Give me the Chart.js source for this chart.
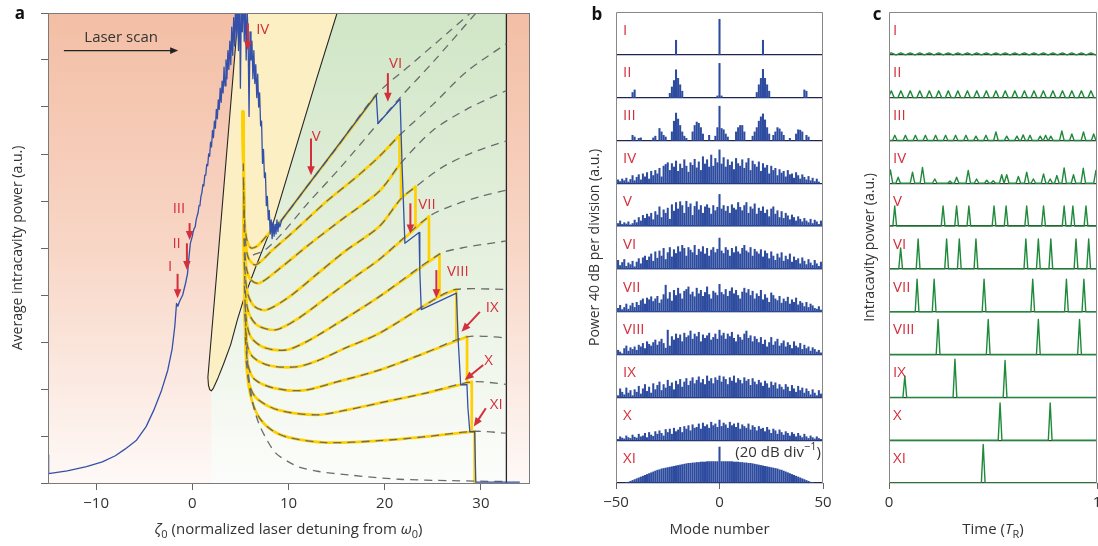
<!DOCTYPE html>
<html>
<head>
<meta charset="utf-8">
<script src="https://cdn.jsdelivr.net/npm/chart.js@4.4.1/dist/chart.umd.min.js"></script>
<style>
  html, body { margin: 0; padding: 0; background: #fff; }
  body { width: 1098px; height: 546px; overflow: hidden; position: relative; }
  canvas { position: absolute; top: 0; }
</style>
</head>
<body>
<canvas id="chartA" width="545" height="546" style="left:0"></canvas>
<canvas id="chartB" width="278" height="546" style="left:560px"></canvas>
<canvas id="chartC" width="272" height="546" style="left:840px"></canvas>
<script>
const FONT = "'Open Sans', 'Noto Sans', sans-serif";
Chart.defaults.font.family = FONT;
Chart.defaults.color = '#333';

// ---------------- panel a data (detuning, power) ----------------
const scanTrace = [
  [-15, 0.6], [-14.97, 0.22], [-14.9, 0.2], [-13, 0.26], [-11, 0.35], [-9.35, 0.45], [-8, 0.58],
  [-7, 0.72], [-5.8, 0.91], [-4.8, 1.2], [-4, 1.55], [-3.2, 1.97], [-2.55, 2.4], [-2.1, 2.85],
  [-1.82, 3.33], [-1.64, 3.82], [-1.5, 3.76], [-1.35, 3.85], [-1.0, 4.0], [-0.7, 4.25], [-0.5, 4.45],
  [-0.35, 4.8], [-0.2, 5.1],
  [0, 5.25], [0.1, 5.35], [0.2, 5.42], [0.3, 5.45], [0.4, 5.6], [0.5, 5.68], [0.6, 5.75], [0.7, 5.9], [0.8, 5.92], [0.9, 6.1],
  [1.0, 6.18], [1.1, 6.35], [1.2, 6.32], [1.3, 6.55], [1.4, 6.55], [1.5, 6.78], [1.6, 6.75], [1.7, 7.0], [1.8, 6.95], [1.9, 7.25],
  [2.0, 7.15], [2.1, 7.5], [2.2, 7.35], [2.3, 7.7], [2.4, 7.55], [2.5, 7.95], [2.6, 7.75], [2.7, 8.15], [2.8, 7.95], [2.9, 8.4],
  [3.0, 8.1], [3.1, 8.55], [3.2, 8.3], [3.3, 8.85], [3.4, 8.45], [3.5, 9.0], [3.6, 8.6], [3.7, 9.2], [3.8, 8.8], [3.9, 9.4],
  [4.0, 8.9], [4.1, 9.7], [4.2, 9.1], [4.3, 9.9], [4.4, 9.3], [4.5, 10.2], [4.6, 9.5], [4.7, 10.4], [4.8, 9.2], [4.9, 10.5],
  [5.0, 8.4], [5.1, 10.3], [5.2, 9.6], [5.3, 10.6], [5.4, 9.4], [5.5, 10.3], [5.6, 9.0], [5.7, 10.1], [5.8, 9.5], [5.9, 7.8],
  [6.0, 9.6], [6.1, 9.0], [6.2, 9.4], [6.3, 8.6], [6.4, 9.2], [6.5, 8.5], [6.6, 8.9], [6.7, 8.2], [6.8, 8.7], [6.9, 8.0],
  [7.0, 8.3], [7.1, 7.6], [7.2, 7.7], [7.3, 6.8], [7.4, 7.1], [7.5, 6.5], [7.6, 6.6], [7.7, 5.9], [7.8, 6.1], [7.9, 5.6],
  [8.0, 5.8], [8.1, 5.3], [8.2, 5.6], [8.3, 5.2], [8.4, 5.55], [8.5, 5.25], [8.6, 5.5], [8.7, 5.3], [8.8, 5.6], [8.9, 5.35],
  [9.0, 5.55], [9.1, 5.45], [9.3, 5.6],
  [19.12, 8.26], [19.3, 7.65], [21.6, 8.17], [21.8, 6.8], [22.1, 5.1], [23.57, 5.33], [23.65, 4.5], [23.8, 3.69],
  [27.45, 4.04], [27.65, 3.0], [27.9, 2.09], [28.55, 2.09], [28.65, 1.6], [28.85, 1.09], [29.35, 1.09],
  [29.47, 0.02], [34, 0.02]
];

// simulated soliton branches (yellow), each ends where the state jumps down
const branch1 = [[5.27, 7.9], [5.3, 6.8], [5.36, 6.0], [5.48, 5.45], [5.7, 5.15], [6.1, 5.0], [6.8, 5.05], [7.9, 5.3], [9.3, 5.6], [12, 6.33], [15, 7.13], [19.12, 8.26]];
const branch2 = [[5.27, 7.9], [5.33, 6.4], [5.4, 5.6], [5.55, 5.1], [5.85, 4.78], [6.6, 4.64], [8.3, 4.95], [10.8, 5.4], [14, 6.0], [17, 6.5], [19.4, 6.94], [21.55, 7.4]];
const branch3 = [[5.27, 7.9], [5.36, 5.8], [5.45, 5.0], [5.65, 4.55], [6.1, 4.32], [6.95, 4.25], [9, 4.55], [12, 5.05], [15.5, 5.6], [19.4, 6.2], [21.7, 6.81]];
const branch4 = [[5.27, 7.9], [5.38, 5.2], [5.5, 4.45], [5.8, 4.0], [6.5, 3.75], [7.66, 3.68], [10, 3.95], [13, 4.45], [16, 4.95], [19.4, 5.45], [21.7, 6.05], [23.2, 6.3]];
const branch5 = [[5.27, 7.9], [5.4, 4.7], [5.55, 4.0], [5.9, 3.6], [6.8, 3.35], [8.7, 3.26], [11, 3.5], [14, 3.95], [17, 4.4], [19.4, 4.75], [24.6, 5.67]];
const branch6 = [[5.27, 7.9], [5.42, 4.2], [5.6, 3.5], [6.1, 3.1], [7.5, 2.88], [9.75, 2.83], [12, 3.02], [15.5, 3.45], [19.4, 3.96], [25.7, 4.87]];
const branch7 = [[5.27, 7.9], [5.45, 3.6], [5.7, 2.95], [6.3, 2.68], [8, 2.5], [10.8, 2.47], [13, 2.6], [16, 2.88], [19.4, 3.18], [25.7, 3.97], [27.45, 4.12]];
const branch8 = [[5.27, 7.9], [5.5, 3.1], [5.8, 2.5], [6.5, 2.2], [8.5, 2.02], [11.5, 1.97], [15, 2.15], [19.4, 2.4], [24, 2.75], [28.56, 3.11]];
const branch9 = [[5.27, 7.9], [5.6, 2.6], [6.0, 2.05], [6.8, 1.78], [9, 1.55], [12.9, 1.45], [16, 1.55], [19.4, 1.7], [24, 1.9], [29.05, 2.15]];
const branch10 = [[5.27, 7.9], [5.75, 2.3], [6.2, 1.75], [7, 1.38], [8.3, 1.12], [10, 0.97], [13.9, 0.86], [19.4, 0.9], [24, 0.98], [29.35, 1.1]];
const stableBranches = [branch1, branch2, branch3, branch4, branch5, branch6, branch7, branch8, branch9, branch10];
const branchDrops = [null, 6.77, 6.05, 5.42, 4.71, 3.97, 3.02, 2.12, 1.1, 0];

// theory continuation of every branch (dashed)
const branchTails = [
  [[23, 8.95], [26.5, 9.57], [29.2, 10.05]],
  [[25, 8.05], [28.5, 8.75], [32.65, 9.35]],
  [[25, 7.5], [28.5, 7.95], [32.65, 8.35]],
  [[26, 6.72], [29, 7.02], [32.65, 7.28]],
  [[27, 5.9], [30, 6.1], [32.65, 6.23]],
  [[28, 5.0], [32.65, 5.15]],
  [[32.65, 4.12]],
  [[32.65, 3.09]],
  [[32.65, 2.1]],
  [[32.65, 1.06]]
];
const theoryOnly1 = [[6.3, 4.85], [7.5, 4.95], [9.3, 5.3], [12, 5.95], [15.3, 6.69], [19.3, 7.65], [21.55, 8.19], [25, 8.95], [29.7, 10.05]];
const theoryOnly0 = [[5.5, 3.8], [5.65, 2.9], [5.9, 2.2], [6.4, 1.6], [6.95, 1.25], [7.8, 0.9], [8.7, 0.63], [10, 0.45], [11.1, 0.34], [13, 0.25], [16.3, 0.17], [21.5, 0.08], [27, 0.05], [32.65, 0.03]];

// region borders
const tongueLeft = [[4.78, 10], [2.52, 4.42], [1.62, 2.25], [1.68, 2.08], [1.8, 1.99], [1.98, 1.96]];
const tongueRight = [[1.98, 1.96], [2.2, 2.02], [2.6, 2.2], [3.23, 2.52], [4.0, 2.95], [4.67, 3.46], [5.4, 3.95], [6.6, 4.6], [7.3, 4.96], [8.39, 5.52], [12.92, 8.6], [15.05, 10]];
const stabilityEdge = 32.65;
const leftGreenEdge = 1.98;

// state markers I..XI : arrow start, arrow tip, label centre
const stateArrows = [
  { label: 'I', from: [-1.53, 4.45], to: [-1.53, 3.93], text: [-2.3, 4.6] },
  { label: 'II', from: [-0.56, 5.1], to: [-0.56, 4.53], text: [-1.63, 5.1] },
  { label: 'III', from: [-0.28, 5.53], to: [-0.28, 5.17], text: [-1.39, 5.84] },
  { label: 'IV', from: [5.78, 9.78], to: [5.78, 9.21], text: [7.32, 9.64] },
  { label: 'V', from: [12.34, 7.33], to: [12.34, 6.55], text: [12.88, 7.37] },
  { label: 'VI', from: [20.33, 8.72], to: [20.33, 8.11], text: [21.13, 8.93] },
  { label: 'VII', from: [22.67, 5.95], to: [22.67, 5.31], text: [24.4, 5.91] },
  { label: 'VIII', from: [25.37, 4.53], to: [25.37, 3.93], text: [27.6, 4.5] },
  { label: 'IX', from: [29.89, 3.64], to: [27.98, 3.22], text: [31.17, 3.72] },
  { label: 'X', from: [30.24, 2.51], to: [28.32, 2.19], text: [30.8, 2.6] },
  { label: 'XI', from: [30.51, 1.59], to: [29.26, 1.2], text: [31.6, 1.66] }
];

// ---------------- panel b data (mode number, power per strip) ----------------
const stateLabels = ['I', 'II', 'III', 'IV', 'V', 'VI', 'VII', 'VIII', 'IX', 'X', 'XI'];
const modeNumbers = Array.from({ length: 101 }, (_, i) => i - 50);
const specI = [[-21, 34], [0, 83], [21, 34]];
const specII = [[-42, 12], [-41, 18], [-24, 10], [-23, 25], [-22, 40], [-21, 65], [-20, 45], [-19, 30], [-18, 15], [-1, 4], [0, 80], [1, 4],
  [18, 12], [19, 30], [20, 45], [21, 66], [22, 45], [23, 30], [24, 15], [41, 18], [42, 15]];
const specIII = [[-42, 12], [-41, 8], [-39, 5], [-38, 6], [-32, 6], [-31, 10], [-29, 28], [-28, 20], [-27, 12], [-26, 8], [-23, 20], [-22, 45],
  [-21, 64], [-20, 50], [-19, 35], [-18, 20], [-17, 10], [-16, 5], [-13, 20], [-12, 35], [-11, 43], [-10, 40], [-9, 30], [-8, 15], [-5, 12],
  [-2, 10], [-1, 30], [0, 80], [1, 28], [2, 25], [3, 15], [4, 8], [8, 20], [9, 30], [10, 35], [11, 35], [12, 20], [16, 10], [17, 20], [18, 30],
  [19, 45], [20, 55], [21, 62], [22, 48], [23, 30], [24, 15], [26, 12], [27, 20], [28, 30], [29, 27], [30, 20], [31, 12], [34, 5], [37, 15],
  [38, 25], [39, 24], [40, 20], [42, 12], [43, 8]];
const specIV = [5, 8, 4, 10, 6, 12, 3, 9, 18, 6, 14, 20, 8, 22, 15, 25, 10, 28, 18, 30, 22, 35, 15, 40, 44, 48, 30, 46, 38, 52,
  28, 45, 35, 55, 40, 26, 48, 42, 56, 36, 50, 30, 62, 45, 55, 38, 66, 40, 58, 48, 78,
  45, 60, 38, 55, 42, 50, 32, 58, 46, 40, 55, 35, 48, 58, 30, 52, 44, 38, 50, 28, 46, 36, 42, 22, 40, 30, 35, 18, 32, 24,
  28, 15, 30, 20, 22, 12, 25, 18, 10, 20, 14, 8, 16, 6, 12, 4, 10, 3, 0, 18];
const specV = [10, 6, 12, 4, 8, 5, 10, 3, 6, 14, 8, 20, 12, 25, 18, 28, 22, 30, 15, 34, 26, 45, 20, 38, 30, 42, 16, 50, 35, 55,
  40, 57, 48, 30, 58, 44, 52, 25, 46, 57, 38, 48, 30, 45, 50, 42, 28, 48, 36, 44, 74,
  40, 48, 35, 46, 30, 50, 42, 38, 55, 44, 36, 48, 55, 30, 45, 40, 52, 28, 42, 35, 45, 30, 38, 22, 40, 45, 28, 36, 20, 34,
  18, 30, 24, 15, 26, 20, 12, 22, 16, 10, 18, 12, 8, 16, 6, 14, 10, 4, 12, 8];
const specVI = [12, 20, 8, 15, 22, 6, 14, 10, 18, 5, 16, 24, 12, 26, 30, 20, 28, 35, 18, 40, 25, 42, 30, 48, 22, 38, 50, 28, 45, 36,
  52, 40, 55, 48, 30, 50, 44, 38, 55, 32, 46, 40, 52, 35, 48, 30, 44, 50, 38, 46, 72,
  42, 36, 50, 44, 30, 48, 38, 52, 40, 35, 48, 55, 42, 38, 50, 30, 46, 40, 35, 45, 28, 42, 36, 24, 40, 30, 20, 35, 26, 38,
  18, 30, 22, 35, 16, 28, 20, 24, 12, 26, 18, 10, 22, 14, 8, 20, 12, 6, 16, 10];
const specVII = [12, 8, 15, 5, 10, 18, 6, 14, 20, 10, 22, 15, 26, 30, 18, 32, 28, 35, 24, 30, 36, 20, 28, 40, 62, 30, 45, 25, 50, 38,
  55, 42, 30, 48, 52, 58, 40, 46, 35, 55, 42, 50, 36, 45, 58, 40, 30, 48, 44, 38, 64,
  45, 40, 52, 36, 48, 56, 42, 50, 38, 30, 46, 55, 44, 52, 38, 48, 30, 42, 36, 50, 28, 40, 32, 22, 44, 38, 30, 26, 36, 20,
  30, 24, 34, 18, 28, 22, 32, 16, 24, 20, 12, 22, 10, 18, 14, 8, 6, 12, 4, 16];
const specVIII = [4, 10, 6, 2, 14, 20, 8, 16, 12, 18, 10, 22, 18, 26, 14, 30, 24, 20, 28, 34, 22, 30, 36, 26, 15, 57, 20, 42, 34, 48,
  38, 46, 30, 50, 40, 44, 55, 36, 48, 42, 52, 30, 46, 38, 44, 50, 34, 40, 48, 36, 57,
  44, 50, 36, 48, 42, 52, 38, 30, 46, 40, 34, 48, 55, 38, 44, 30, 42, 36, 28, 40, 24, 34, 18, 28, 40, 22, 30, 36, 20, 26,
  32, 18, 28, 22, 14, 30, 20, 16, 26, 12, 22, 14, 18, 8, 16, 12, 6, 10, 4, 2];
const specIX = [8, 4, 20, 12, 6, 22, 10, 16, 4, 18, 12, 26, 8, 20, 30, 14, 24, 10, 32, 18, 28, 36, 16, 30, 22, 40, 26, 34, 18, 38,
  30, 42, 24, 36, 44, 28, 38, 46, 32, 40, 48, 34, 42, 30, 50, 38, 44, 32, 46, 40, 50,
  36, 48, 42, 30, 46, 38, 50, 34, 44, 40, 32, 46, 38, 42, 28, 44, 36, 30, 40, 34, 26, 38, 32, 22, 36, 28, 34, 20, 30, 24,
  18, 30, 24, 14, 28, 20, 12, 26, 16, 22, 10, 20, 14, 6, 18, 10, 4, 16, 8, 18];
const specX = [4, 2, 8, 5, 3, 10, 6, 4, 12, 7, 5, 14, 8, 10, 16, 6, 18, 12, 9, 20, 14, 22, 16, 10, 25, 18, 26, 14, 28, 20,
  24, 30, 18, 32, 26, 34, 22, 36, 28, 30, 38, 26, 40, 32, 36, 28, 42, 34, 38, 30, 47,
  32, 40, 36, 28, 42, 34, 38, 30, 40, 26, 36, 32, 28, 38, 24, 34, 30, 22, 32, 26, 28, 20, 30, 24, 16, 26, 22, 14, 24, 18,
  12, 20, 16, 10, 18, 14, 8, 16, 10, 6, 14, 8, 4, 10, 6, 3, 8, 4, 2, 6];
const specXI = [0, 0, 0, 0, 0, 1, 2, 4, 6, 8, 10, 12, 14, 16, 18, 20, 22, 24, 26, 28, 30, 31, 33, 34, 35, 36, 37, 38, 39, 40,
  41, 42, 43, 44, 45, 46, 46, 47, 47, 48, 48, 49, 49, 49, 50, 50, 50, 50, 50, 50, 84,
  50, 50, 50, 50, 50, 50, 49, 49, 49, 48, 48, 47, 47, 46, 46, 45, 44, 43, 42, 41, 40, 39, 38, 37, 36, 35, 34, 33, 31, 30,
  28, 26, 24, 22, 20, 18, 16, 14, 12, 10, 8, 6, 4, 2, 1, 0, 0, 0, 0, 0];

// ---------------- panel c data (time, pulses per strip: [t, height]) ----------------
const pulsesI = [[0.011, 0.045], [0.057, 0.045], [0.102, 0.045], [0.148, 0.045], [0.194, 0.045], [0.239, 0.045], [0.285, 0.045], [0.331, 0.045],
  [0.377, 0.045], [0.422, 0.045], [0.468, 0.045], [0.514, 0.045], [0.559, 0.045], [0.605, 0.045], [0.651, 0.045], [0.697, 0.045],
  [0.742, 0.045], [0.788, 0.045], [0.834, 0.045], [0.879, 0.045], [0.925, 0.045], [0.971, 0.045]];
const pulsesII = [[0.011, 0.16], [0.057, 0.16], [0.102, 0.16], [0.148, 0.16], [0.194, 0.16], [0.239, 0.16], [0.285, 0.16], [0.331, 0.16],
  [0.377, 0.16], [0.422, 0.16], [0.468, 0.16], [0.514, 0.16], [0.559, 0.16], [0.605, 0.16], [0.651, 0.16], [0.697, 0.16],
  [0.742, 0.16], [0.788, 0.16], [0.834, 0.16], [0.879, 0.16], [0.925, 0.16], [0.971, 0.16]];
const pulsesIII = [[0.028, 0.12], [0.079, 0.12], [0.127, 0.12], [0.175, 0.12], [0.224, 0.12], [0.272, 0.12], [0.32, 0.12], [0.37, 0.12],
  [0.418, 0.1], [0.466, 0.12], [0.514, 0.2], [0.566, 0.1], [0.615, 0.1], [0.645, 0.13], [0.678, 0.12], [0.727, 0.1], [0.753, 0.12],
  [0.778, 0.1], [0.831, 0.22], [0.879, 0.15], [0.935, 0.2], [0.984, 0.15]];
const pulsesIV = [[0.007, 0.31], [0.044, 0.14], [0.113, 0.26], [0.161, 0.37], [0.22, 0.1], [0.293, 0.05], [0.325, 0.14], [0.381, 0.3],
  [0.421, 0.1], [0.47, 0.07], [0.501, 0.06], [0.542, 0.2], [0.566, 0.2], [0.622, 0.16], [0.662, 0.26], [0.694, 0.1], [0.743, 0.22],
  [0.775, 0.1], [0.807, 0.18], [0.842, 0.36], [0.887, 0.2], [0.934, 0.35], [0.995, 0.3]];
const pulsesV = [[0.0275, 0.47], [0.26, 0.47], [0.325, 0.47], [0.384, 0.47], [0.505, 0.47], [0.563, 0.47], [0.662, 0.47], [0.743, 0.47],
  [0.842, 0.47], [0.884, 0.47], [0.947, 0.47]];
const pulsesVI = [[0.056, 0.49], [0.14, 0.7], [0.277, 0.7], [0.338, 0.7], [0.418, 0.7], [0.658, 0.7], [0.718, 0.7], [0.778, 0.7],
  [0.899, 0.7], [0.96, 0.7]];
const pulsesVII = [[0.135, 0.76], [0.217, 0.76], [0.457, 0.76], [0.691, 0.76], [0.853, 0.76], [0.937, 0.76]];
const pulsesVIII = [[0.236, 0.82], [0.477, 0.82], [0.718, 0.82], [0.916, 0.82]];
const pulsesIX = [[0.076, 0.5], [0.317, 0.89], [0.558, 0.86]];
const pulsesX = [[0.534, 0.87], [0.775, 0.87]];
const pulsesXI = [[0.453, 0.9]];

// ---------------- helpers ----------------
const RED = '#d42f3c';
const toXY = pts => pts.map(([x, y]) => ({ x, y }));

function vGrad(chart, stops) {
  const a = chart.chartArea;
  if (!a) return stops[0][1];
  const g = chart.ctx.createLinearGradient(0, a.top, 0, a.bottom);
  stops.forEach(([p, c]) => g.addColorStop(p, c));
  return g;
}

function lineSet(pts, color, width, extra) {
  return Object.assign({
    data: toXY(pts), showLine: true, borderColor: color, borderWidth: width,
    pointRadius: 0, fill: false, borderJoinStyle: 'round', borderCapStyle: 'round'
  }, extra || {});
}

function richText(ctx, segs, x, y, size, color, align) {
  const fontOf = s => (s.italic ? 'italic ' : '') + (s.bold ? 'bold ' : '') +
    Math.round((s.sub || s.sup) ? size * 0.7 : size) + 'px ' + FONT;
  let w = 0;
  segs.forEach(s => { ctx.font = fontOf(s); w += ctx.measureText(s.t).width; });
  let cx = align === 'right' ? x - w : align === 'left' ? x : x - w / 2;
  ctx.fillStyle = color;
  ctx.textAlign = 'left';
  ctx.textBaseline = 'middle';
  segs.forEach(s => {
    ctx.font = fontOf(s);
    const dy = s.sub ? size * 0.32 : s.sup ? -size * 0.35 : 0;
    ctx.fillText(s.t, cx, y + dy);
    cx += ctx.measureText(s.t).width;
  });
}

function rotatedText(ctx, text, x, y, size) {
  ctx.save();
  ctx.translate(x, y);
  ctx.rotate(-Math.PI / 2);
  ctx.font = size + 'px ' + FONT;
  ctx.fillStyle = '#333';
  ctx.textAlign = 'center';
  ctx.textBaseline = 'middle';
  ctx.fillText(text, 0, 0);
  ctx.restore();
}

function drawArrow(ctx, x0, y0, x1, y1, color, width, head) {
  const ang = Math.atan2(y1 - y0, x1 - x0);
  const c = Math.cos(ang), s = Math.sin(ang);
  ctx.strokeStyle = color;
  ctx.fillStyle = color;
  ctx.lineWidth = width;
  ctx.beginPath();
  ctx.moveTo(x0, y0);
  ctx.lineTo(x1 - c * head * 0.8, y1 - s * head * 0.8);
  ctx.stroke();
  ctx.beginPath();
  ctx.moveTo(x1, y1);
  ctx.lineTo(x1 - head * c + head * 0.42 * s, y1 - head * s - head * 0.42 * c);
  ctx.lineTo(x1 - head * c - head * 0.42 * s, y1 - head * s + head * 0.42 * c);
  ctx.closePath();
  ctx.fill();
}

function panelLetter(ctx, letter, x, y) {
  ctx.font = 'bold 17px ' + FONT;
  ctx.fillStyle = '#111';
  ctx.textAlign = 'center';
  ctx.textBaseline = 'middle';
  ctx.fillText(letter, x, y);
}

const minusFmt = v => (v < 0 ? '\u2212' + (-v) : String(v));

// ---------------- panel a chart ----------------
const panelAPlugin = {
  id: 'panelA',
  beforeDraw(chart) {
    const { ctx, chartArea: a } = chart;
    ctx.save();
    ctx.fillStyle = vGrad(chart, [[0, '#f3bea5'], [0.5, '#f8d6c6'], [1, '#fef9f7']]);
    ctx.fillRect(a.left, a.top, a.right - a.left, a.bottom - a.top);
    ctx.restore();
  },
  afterDatasetsDraw(chart) {
    const { ctx, scales: { x, y } } = chart;
    ctx.save();
    stateArrows.forEach(m => {
      drawArrow(ctx, x.getPixelForValue(m.from[0]), y.getPixelForValue(m.from[1]),
        x.getPixelForValue(m.to[0]), y.getPixelForValue(m.to[1]), RED, 2, 9);
      ctx.font = '15px ' + FONT;
      ctx.fillStyle = RED;
      ctx.textAlign = 'center';
      ctx.textBaseline = 'middle';
      ctx.fillText(m.label, x.getPixelForValue(m.text[0]), y.getPixelForValue(m.text[1]));
    });
    // laser scan direction
    ctx.font = '15px ' + FONT;
    ctx.fillStyle = '#333';
    ctx.fillText('Laser scan', x.getPixelForValue(-7.4), y.getPixelForValue(9.47));
    drawArrow(ctx, x.getPixelForValue(-13.35), y.getPixelForValue(9.2),
      x.getPixelForValue(-1.47), y.getPixelForValue(9.2), '#222', 1.2, 8);
    ctx.restore();
  },
  afterDraw(chart) {
    const { ctx, chartArea: a } = chart;
    ctx.save();
    ctx.strokeStyle = '#7a7a7a';
    ctx.lineWidth = 1;
    ctx.strokeRect(Math.round(a.left) + 0.5, Math.round(a.top) + 0.5, Math.round(a.right - a.left), Math.round(a.bottom - a.top));
    rotatedText(ctx, 'Average intracavity power (a.u.)', 18, (a.top + a.bottom) / 2, 14);
    richText(ctx, [{ t: '\u03B6', italic: true }, { t: '0', sub: true }, { t: ' (normalized laser detuning from ' },
      { t: '\u03C9', italic: true }, { t: '0', sub: true }, { t: ')' }], (a.left + a.right) / 2, 530, 15, '#333');
    panelLetter(ctx, 'a', 20, 14);
    ctx.restore();
  }
};

const dashStyle = { borderDash: [8, 6], order: 40, borderCapStyle: 'butt', tension: 0.3 };
const datasetsA = [];
datasetsA.push(lineSet([[leftGreenEdge, 0]].concat(tongueRight, [[stabilityEdge, 10], [stabilityEdge, 0]]), 'rgba(0,0,0,0)', 1, {
  fill: 'shape', order: 100,
  backgroundColor: c => vGrad(c.chart, [[0, '#d0e6c6'], [0.55, '#e7f1e0'], [1, '#fcfdfb']])
}));
datasetsA.push(lineSet(tongueLeft.concat(tongueRight.slice(1)), 'rgba(0,0,0,0)', 1, { fill: 'shape', backgroundColor: '#fcefc3', order: 90 }));
datasetsA.push(lineSet(tongueLeft.concat(tongueRight.slice(1)), '#262626', 1.1, { order: 80 }));
datasetsA.push(lineSet([[stabilityEdge, 0], [stabilityEdge, 10]], '#262626', 1.3, { order: 80 }));
stableBranches.forEach((b, i) => {
  const last = b[b.length - 1];
  datasetsA.push(lineSet(b, '#ffd000', 2.7, { order: 50, tension: 0.3 }));
  if (branchDrops[i] !== null) {
    datasetsA.push(lineSet([last, [last[0], branchDrops[i]]], '#ffd000', 2.7, { order: 50 }));
  }
  datasetsA.push(lineSet(b.slice(1).concat(branchTails[i]), '#6b6b6b', 1.3, dashStyle));
});
[theoryOnly1, theoryOnly0].forEach(t => datasetsA.push(lineSet(t, '#6b6b6b', 1.3, dashStyle)));
datasetsA.push(lineSet(scanTrace, '#3450a8', 1.3, { order: 30 }));

new Chart(document.getElementById('chartA'), {
  type: 'scatter',
  data: { datasets: datasetsA },
  options: {
    responsive: false,
    animation: false,
    layout: { padding: { top: 13, right: 16, left: 0, bottom: 0 } },
    plugins: { legend: { display: false }, tooltip: { enabled: false } },
    scales: {
      x: {
        type: 'linear', min: -15, max: 35,
        afterBuildTicks: s => { s.ticks = [-10, 0, 10, 20, 30].map(v => ({ value: v })); },
        afterFit: s => { s.height = 63; },
        border: { display: false },
        grid: { drawOnChartArea: false, drawTicks: true, tickLength: 7, color: '#666' },
        ticks: { font: { size: 15 }, color: '#333', padding: 5, maxRotation: 0, callback: minusFmt }
      },
      y: {
        min: 0, max: 10,
        afterFit: s => { s.width = 48; },
        border: { display: false },
        grid: { drawOnChartArea: false, drawTicks: true, tickLength: 7, color: '#666' },
        ticks: { display: false, stepSize: 1 }
      }
    }
  },
  plugins: [panelAPlugin]
});

// ---------------- panels b and c ----------------
function stripScales(tickValues, leftWidth, baseColor) {
  return {
    x: {
      type: 'linear', min: tickValues[0], max: tickValues[tickValues.length - 1], offset: false,
      afterBuildTicks: s => { s.ticks = tickValues.map(v => ({ value: v })); },
      afterFit: s => { s.height = 63; },
      border: { display: false },
      grid: { offset: false, drawOnChartArea: false, drawTicks: true, tickLength: 6, color: '#666' },
      ticks: { font: { size: 15 }, color: '#333', padding: 5, maxRotation: 0, autoSkip: false, callback: minusFmt }
    },
    y: {
      min: 0, max: 11,
      afterFit: s => { s.width = leftWidth; },
      border: { display: false },
      ticks: { display: false, stepSize: 1 },
      grid: { drawTicks: false, lineWidth: 1.3, color: c => (c.tick.value >= 11 ? 'rgba(0,0,0,0)' : baseColor) }
    }
  };
}

function stripPlugin(opts) {
  return {
    id: 'strips' + opts.letter,
    afterDraw(chart) {
      const { ctx, chartArea: a, scales: { x, y } } = chart;
      ctx.save();
      ctx.strokeStyle = '#888';
      ctx.lineWidth = 1;
      const l = Math.round(a.left) + 0.5, r = Math.round(a.right) - 0.5, t = Math.round(a.top) + 0.5, b = Math.round(a.bottom);
      ctx.beginPath();
      ctx.moveTo(l, b); ctx.lineTo(l, t); ctx.lineTo(r, t); ctx.lineTo(r, b);
      ctx.stroke();
      stateLabels.forEach((lab, k) => {
        ctx.font = '15px ' + FONT;
        ctx.fillStyle = RED;
        ctx.textAlign = 'left';
        ctx.textBaseline = 'middle';
        ctx.fillText(lab, a.left + opts.labelInset, y.getPixelForValue(11 - k - 0.43));
      });
      rotatedText(ctx, opts.yTitle, opts.yTitleX, (a.top + a.bottom) / 2, 14);
      richText(ctx, opts.xTitle, (a.left + a.right) / 2, 530, 15, '#333');
      if (opts.extra) opts.extra(ctx, a, x, y);
      panelLetter(ctx, opts.letter, 37, 15);
      ctx.restore();
    }
  };
}

const spectra = [specI, specII, specIII, specIV, specV, specVI, specVII, specVIII, specIX, specX, specXI].map(s => {
  if (typeof s[0] === 'number') return s;
  const dense = modeNumbers.map(() => 0);
  s.forEach(([m, h]) => { dense[m + 50] = h; });
  return dense;
});

new Chart(document.getElementById('chartB'), {
  type: 'bar',
  data: {
    datasets: spectra.map((spec, k) => ({
      data: modeNumbers.map((m, i) => ({ x: m, y: [10 - k, 10 - k + (spec[i] || 0) / 100] })).filter((d, i) => spec[i] > 0),
      backgroundColor: '#2e4c9f', borderWidth: 0, barThickness: 1.4, grouped: false
    }))
  },
  options: {
    responsive: false,
    animation: false,
    layout: { padding: { top: 12, right: 15, left: 0, bottom: 0 } },
    plugins: { legend: { display: false }, tooltip: { enabled: false } },
    scales: stripScales([-50, 0, 50], 56, '#1d2550')
  },
  plugins: [stripPlugin({
    letter: 'b', labelInset: 7, yTitle: 'Power 40 dB per division (a.u.)', yTitleX: 35,
    xTitle: [{ t: 'Mode number' }],
    extra: (ctx, a, x, y) => {
      richText(ctx, [{ t: '(20 dB div' }, { t: '\u22121', sup: true }, { t: ')' }], a.right - 2, y.getPixelForValue(0.71), 15, '#333', 'right');
    }
  })]
});

function pulseLine(pulses, base, half) {
  const pts = [{ x: 0, y: base }];
  pulses.forEach(([t, h]) => {
    pts.push({ x: t - half, y: base }, { x: t, y: base + h }, { x: t + half, y: base });
  });
  if (pts[pts.length - 1].x < 1) pts.push({ x: 1, y: base });
  return pts;
}

const traces = [pulsesI, pulsesII, pulsesIII, pulsesIV, pulsesV, pulsesVI, pulsesVII, pulsesVIII, pulsesIX, pulsesX, pulsesXI];
const traceHalfWidth = [0.022, 0.014, 0.011, 0.011, 0.009, 0.009, 0.009, 0.009, 0.009, 0.009, 0.009];

new Chart(document.getElementById('chartC'), {
  type: 'scatter',
  data: {
    datasets: traces.map((p, k) => ({
      data: pulseLine(p, 10 - k, traceHalfWidth[k]), showLine: true, borderColor: '#1f8a3b', borderWidth: 1.4,
      pointRadius: 0, borderJoinStyle: 'round'
    }))
  },
  options: {
    responsive: false,
    animation: false,
    layout: { padding: { top: 12, right: 15, left: 0, bottom: 0 } },
    plugins: { legend: { display: false }, tooltip: { enabled: false } },
    scales: stripScales([0, 1], 49, '#3a3a3a')
  },
  plugins: [stripPlugin({
    letter: 'c', labelInset: 4, yTitle: 'Intracavity power (a.u.)', yTitleX: 30,
    xTitle: [{ t: 'Time (' }, { t: 'T', italic: true }, { t: 'R', sub: true }, { t: ')' }]
  })]
});
</script>
</body>
</html>
